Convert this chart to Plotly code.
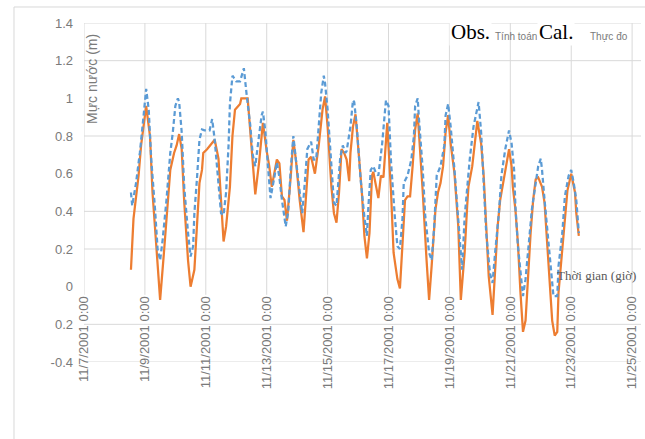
import pandas as pd
import plotly.graph_objects as go

# Water level at the station, hours counted from 2001-11-08 00:00
start = pd.Timestamp("2001-11-08 00:00")

# Calculated water level (Tính toán)
calc_hours = [
    13, 15, 19, 21, 25, 28, 30, 33, 36,
    39, 42, 44, 47, 49, 51, 53, 55, 58, 60,
    63, 65, 67, 69, 70, 73, 77, 79, 82, 84, 86,
    88, 91, 93, 95, 99, 100, 105, 107, 109, 111,
    114, 117, 120, 122, 124, 128, 130, 132, 134, 136,
    139, 141, 143, 146, 149,
    151, 153, 155, 157, 158, 161, 164, 166, 168, 171, 173, 175,
    177, 179, 181, 183, 185, 186, 188, 190, 192, 195, 197, 199,
    201, 203, 204, 206, 208, 210, 212, 215, 218, 220, 223, 225,
    227, 229, 231, 233, 235, 237, 239, 240, 243, 246, 248,
    250, 253, 255, 257, 259, 261, 263, 265, 268, 271, 273,
    276, 278, 279, 282, 284, 286, 289, 291, 293, 295, 298,
    300, 302, 304, 307, 309, 311, 313, 314, 316, 318, 320, 322, 324,
    326, 328, 330, 332, 334, 337, 339, 341, 343, 345, 347, 349,
    350, 353, 355, 357, 360, 363, 364, 366,
]
calc_level = [
    0.09, 0.36, 0.59, 0.75, 0.96, 0.80, 0.50, 0.20, -0.07,
    0.18, 0.45, 0.62, 0.71, 0.75, 0.81, 0.73, 0.45, 0.14, 0.00,
    0.09, 0.32, 0.55, 0.62, 0.71, 0.73, 0.76, 0.78, 0.68, 0.48, 0.24,
    0.32, 0.53, 0.80, 0.94, 0.97, 1.00, 1.00, 0.84, 0.64, 0.49,
    0.66, 0.87, 0.72, 0.64, 0.53, 0.675, 0.655, 0.48, 0.46, 0.35,
    0.59, 0.78, 0.675, 0.46, 0.29,
    0.50, 0.675, 0.69, 0.64, 0.60, 0.75, 0.94, 1.01, 0.85, 0.53, 0.39, 0.34,
    0.50, 0.73, 0.71, 0.675, 0.56, 0.71, 0.85, 0.915, 0.76, 0.50, 0.27, 0.15,
    0.285, 0.59, 0.61, 0.53, 0.47, 0.59, 0.58, 0.87, 0.50, 0.18, 0.04, -0.01,
    0.25, 0.46, 0.48, 0.48, 0.64, 0.835, 0.92, 0.82, 0.50, 0.14, -0.07,
    0.11, 0.41, 0.50, 0.55, 0.64, 0.82, 0.91, 0.76, 0.60, 0.32, -0.07,
    0.18, 0.43, 0.53, 0.64, 0.76, 0.88, 0.76, 0.59, 0.32, 0.055, -0.15,
    0.07, 0.32, 0.46, 0.57, 0.66, 0.73, 0.64, 0.53, 0.41, 0.23, -0.03, -0.24, -0.18,
    0.07, 0.285, 0.46, 0.57, 0.58, 0.53, 0.445, 0.25, 0.00, -0.18, -0.26, -0.24,
    -0.03, 0.215, 0.39, 0.51, 0.60, 0.50, 0.39, 0.27,
]

# Measured water level (Thực đo)
obs_hours = [
    13, 14, 17, 20, 23, 25, 27, 29, 32, 34, 36,
    38, 41, 44, 46, 48, 50, 51, 53, 55, 58, 60,
    62, 63, 65, 67, 69, 71, 75, 77, 79, 82, 84, 86,
    88, 90, 91, 93, 96, 99, 101, 102, 104, 107, 109, 111,
    113, 116, 117, 119, 121, 123, 126, 128, 130, 132, 135,
    137, 139, 141, 143, 146, 148,
    150, 152, 155, 157, 159, 161, 163, 165, 166, 168, 171, 173, 175,
    176, 178, 180, 182, 183, 186, 188, 189, 191, 194, 197, 199,
    200, 202, 204, 206, 208, 209, 211, 213, 214, 216, 218, 221, 223, 225,
    227, 228, 231, 234, 236, 237, 239, 240, 243, 245, 248, 250,
    252, 254, 257, 260, 261, 263, 265, 268, 271, 274,
    276, 278, 280, 283, 286, 287, 289, 291, 293, 296, 298,
    300, 303, 305, 308, 311, 313, 315, 316, 318, 321, 322,
    324, 326, 329, 332, 334, 336, 337, 339, 342, 344, 346, 349,
    350, 353, 355, 358, 360, 362, 364, 366,
]
obs_level = [
    0.50, 0.43, 0.55, 0.71, 0.91, 1.05, 0.94, 0.675, 0.41, 0.20, 0.14,
    0.25, 0.46, 0.71, 0.82, 0.96, 1.00, 0.98, 0.82, 0.53, 0.285, 0.16,
    0.215, 0.39, 0.57, 0.78, 0.835, 0.83, 0.83, 0.89, 0.78, 0.55, 0.39, 0.38,
    0.50, 0.76, 0.97, 1.12, 1.09, 1.09, 1.145, 1.16, 1.03, 0.86, 0.70, 0.64,
    0.75, 0.91, 0.93, 0.82, 0.64, 0.47, 0.58, 0.66, 0.58, 0.46, 0.32,
    0.40, 0.63, 0.80, 0.675, 0.50, 0.39,
    0.55, 0.73, 0.77, 0.675, 0.675, 0.85, 1.03, 1.12, 1.08, 0.94, 0.62, 0.445, 0.43,
    0.53, 0.69, 0.75, 0.71, 0.72, 0.85, 0.99, 0.98, 0.85, 0.57, 0.37, 0.27,
    0.41, 0.62, 0.64, 0.605, 0.59, 0.64, 0.76, 0.915, 0.99, 0.96, 0.66, 0.37, 0.215, 0.20,
    0.36, 0.55, 0.59, 0.675, 0.80, 0.96, 1.00, 0.89, 0.62, 0.37, 0.18, 0.14,
    0.32, 0.59, 0.64, 0.75, 0.91, 0.97, 0.85, 0.62, 0.37, 0.09,
    0.37, 0.53, 0.675, 0.85, 0.96, 0.98, 0.82, 0.55, 0.285, 0.07, 0.02,
    0.18, 0.39, 0.59, 0.73, 0.83, 0.76, 0.62, 0.43, 0.215, 0.04, -0.05,
    0.04, 0.20, 0.41, 0.55, 0.64, 0.68, 0.62, 0.46, 0.25, 0.07, -0.05, -0.05,
    0.11, 0.285, 0.48, 0.59, 0.62, 0.55, 0.46, 0.285,
]

assert len(calc_hours) == len(calc_level)
assert len(obs_hours) == len(obs_level)

# Axis ticks
tick_dates = pd.date_range("2001-11-07", "2001-11-25", freq="2D")
tick_labels = [f"{d.month}/{d.day}/{d.year} 0:00" for d in tick_dates]
y_ticks = [-0.4, -0.2, 0.0, 0.2, 0.4, 0.6, 0.8, 1.0, 1.2, 1.4]
y_labels = ["-0.4", "0.2", "0", "0.2", "0.4", "0.6", "0.8", "1", "1.2", "1.4"]
grid_levels = [-0.4, -0.2, 0.2, 0.4, 0.8, 1.2, 1.4]

y_range = [-0.4, 1.4]
x_range = ["2001-11-07 00:00", "2001-11-25 07:00"]

calc_time = start + pd.to_timedelta(calc_hours, unit="h")
obs_time = start + pd.to_timedelta(obs_hours, unit="h")

GRID = "#d9d9d9"
LABEL = "#7a7a7a"
SANS = "Liberation Sans, Arial, sans-serif"
SERIF = "Liberation Serif, Times New Roman, serif"

fig = go.Figure()
fig.add_trace(go.Scatter(
    x=calc_time, y=calc_level, mode="lines", name="Tính toán",
    line=dict(color="#ED7D31", width=2.25),
))
fig.add_trace(go.Scatter(
    x=obs_time, y=obs_level, mode="lines", name="Thực đo",
    line=dict(color="#5B9BD5", width=2.25, dash="5px,3px"),
))

# Horizontal axis crosses the value axis at 0
x_axis_pos = (0 - y_range[0]) / (y_range[1] - y_range[0])

shapes = []
# vertical grid lines stop where the date labels begin
for d in tick_dates:
    shapes.append(dict(type="line", xref="x", yref="paper", x0=d, x1=d,
                       y0=x_axis_pos - 0.024, y1=1, layer="below",
                       line=dict(color=GRID, width=1)))
for v in grid_levels:
    shapes.append(dict(type="line", xref="paper", yref="y", x0=0, x1=1,
                       y0=v, y1=v, layer="below",
                       line=dict(color=GRID, width=1)))
# chart frame (left and top edges)
shapes.append(dict(type="line", xref="paper", yref="paper", x0=-0.1257, x1=-0.1257,
                   y0=-0.23, y1=1.0472, line=dict(color=GRID, width=1)))
shapes.append(dict(type="line", xref="paper", yref="paper", x0=-0.1257, x1=1.01,
                   y0=1.0472, y1=1.0472, line=dict(color=GRID, width=1)))

annotations = [
    dict(text="Mực nước (m)", textangle=-90, xref="paper", yref="paper",
         x=0.0144, y=0.835, xanchor="center", yanchor="middle", showarrow=False,
         font=dict(family=SANS, size=14, color=LABEL)),
    dict(text="Thời gian (giờ)", xref="paper", yref="paper",
         x=0.921, y=0.2566, xanchor="center", yanchor="middle", showarrow=False,
         font=dict(family=SERIF, size=13, color="#595959")),
    dict(text="Tính toán", xref="paper", yref="paper",
         x=0.7756, y=0.960, xanchor="center", yanchor="middle", showarrow=False,
         font=dict(family=SANS, size=10, color=LABEL)),
    dict(text="Thực đo", xref="paper", yref="paper",
         x=0.9434, y=0.960, xanchor="center", yanchor="middle", showarrow=False,
         font=dict(family=SANS, size=10, color=LABEL)),
    dict(text="Obs.", xref="paper", yref="paper",
         x=0.693, y=0.9735, xanchor="center", yanchor="middle", showarrow=False,
         bgcolor="white", font=dict(family=SERIF, size=21, color="black")),
    dict(text="Cal.", xref="paper", yref="paper",
         x=0.8474, y=0.9735, xanchor="center", yanchor="middle", showarrow=False,
         bgcolor="white", font=dict(family=SERIF, size=21, color="black")),
]

fig.update_layout(
    width=645, height=439, autosize=False,
    margin=dict(l=84, r=4, t=23, b=77),
    paper_bgcolor="white", plot_bgcolor="white",
    showlegend=False,
    shapes=shapes,
    annotations=annotations,
    xaxis=dict(
        type="date", range=x_range, anchor="free", position=x_axis_pos,
        tickvals=tick_dates, ticktext=tick_labels, tickangle=-90,
        showgrid=False, zeroline=False, showline=False, ticks="",
        ticklabelstandoff=6,
        tickfont=dict(family=SANS, size=13, color=LABEL),
    ),
    yaxis=dict(
        range=y_range, tickvals=y_ticks, ticktext=y_labels,
        showgrid=False, zeroline=False, showline=False, ticks="",
        ticklabelstandoff=10,
        tickfont=dict(family=SANS, size=13, color=LABEL),
    ),
)

fig.write_html("out.html")
